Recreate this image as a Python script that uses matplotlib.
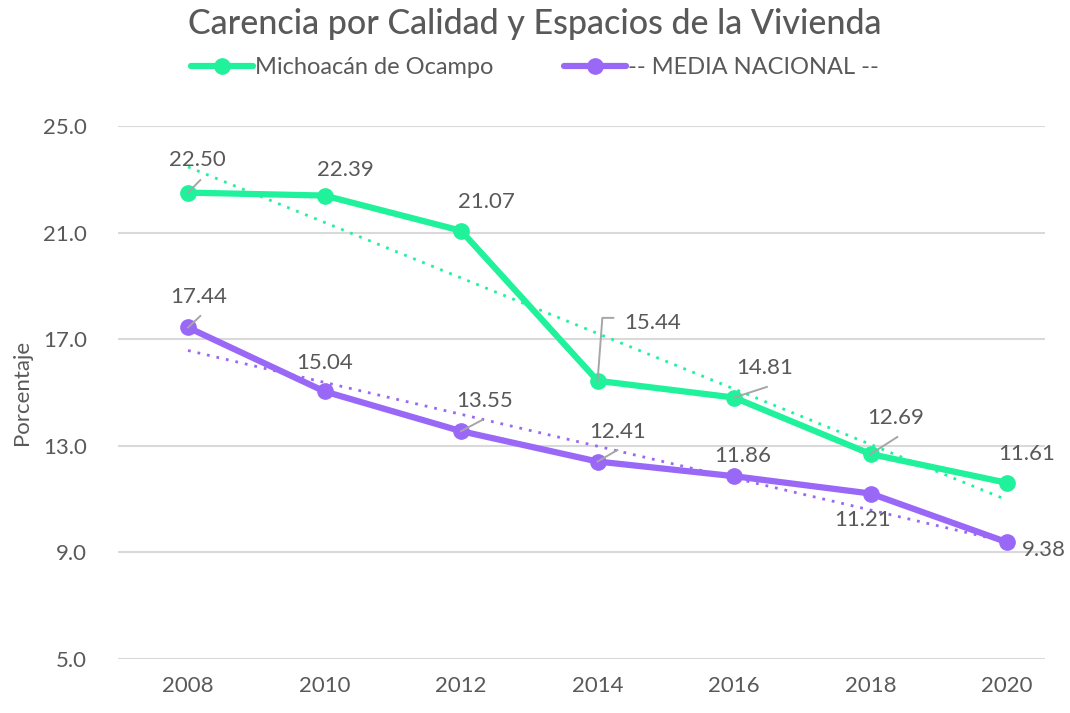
import matplotlib.pyplot as plt
import numpy as np

years = [2008, 2010, 2012, 2014, 2016, 2018, 2020]
michoacan = [22.50, 22.39, 21.07, 15.44, 14.81, 12.69, 11.61]
nacional = [17.44, 15.04, 13.55, 12.41, 11.86, 11.21, 9.38]

# label position (year, value) for each point
mich_text = [(2008.13, 23.72), (2010.30, 23.35), (2012.37, 22.15), (2014.80, 17.61),
             (2016.45, 15.93), (2018.36, 14.04), (2020.29, 12.68)]
nac_text = [(2008.15, 18.58), (2010.0, 16.11), (2012.34, 14.68), (2014.29, 13.52),
            (2016.12, 12.62), (2017.88, 10.21), (2020.54, 9.09)]

# leader lines: bend/end points, None where there is no leader
mich_leaders = [[(2008.18, 22.97)], None, None, [(2014.07, 17.80), (2014.23, 17.80)],
                [(2016.48, 15.21)], [(2018.39, 13.33)], None]
nac_leaders = [[(2008.18, 17.87)], None, [(2012.31, 13.97)], [(2014.29, 12.84)],
               None, None, None]

green = "#1ff29b"
purple = "#9a68f6"
gray = "#595959"

plt.rcParams['font.family'] = ['Lato', 'DejaVu Sans']

fig = plt.figure(figsize=(10.7, 7.13), dpi=100)
ax = fig.add_axes([0.110, 0.0757, 0.867, 0.7476])

series = [(michoacan, green, mich_text, mich_leaders, "Michoacán de Ocampo"),
          (nacional, purple, nac_text, nac_leaders, "-- MEDIA NACIONAL --")]
for vals, color, texts, leaders, name in series:
    ax.plot(years, vals, color=color, lw=4.5, marker='o', ms=11, label=name,
            solid_capstyle='round', zorder=3)
    k, b = np.polyfit(years, vals, 1)
    xs = np.array([years[0], years[-1]])
    ax.plot(xs, k * xs + b, color=color, lw=2, ls=(0, (1, 2.5)), zorder=2)
    for yr, v, (lx, ly), lead in zip(years, vals, texts, leaders):
        ax.text(lx, ly, f"{v:.2f}", ha='center', va='center', fontsize=16, color=gray,
                zorder=5, clip_on=False)
        if lead:
            px = [yr] + [p[0] for p in lead]
            py = [v] + [p[1] for p in lead]
            ax.plot(px, py, color='#a6a6a6', lw=1.4, zorder=4)

ax.set_ylim(5, 25)
ax.set_yticks([5, 9, 13, 17, 21, 25])
ax.set_yticklabels(["5.0", "9.0", "13.0", "17.0", "21.0", "25.0"])
ax.set_xlim(2006.97, 2020.56)
ax.set_xticks(years)
ax.tick_params(axis='both', length=0, labelsize=16, labelcolor=gray)
ax.tick_params(axis='y', pad=22)
ax.tick_params(axis='x', pad=12)
ax.grid(axis='y', color='#d9d9d9', lw=1.5)
ax.set_axisbelow(True)
for s in ax.spines.values():
    s.set_visible(False)

ax.set_ylabel("Porcentaje", fontsize=16, color=gray, labelpad=8)
fig.text(0.5, 0.966, "Carencia por Calidad y Espacios de la Vivienda", ha='center', va='center',
         fontsize=24.5, color=gray, fontweight='medium')
fig.legend(loc='center', bbox_to_anchor=(0.5, 0.905), ncol=2, frameon=False, fontsize=17,
           labelcolor=gray, handlelength=2.6, handletextpad=0.1, columnspacing=3.0)

fig.savefig("out.png")
